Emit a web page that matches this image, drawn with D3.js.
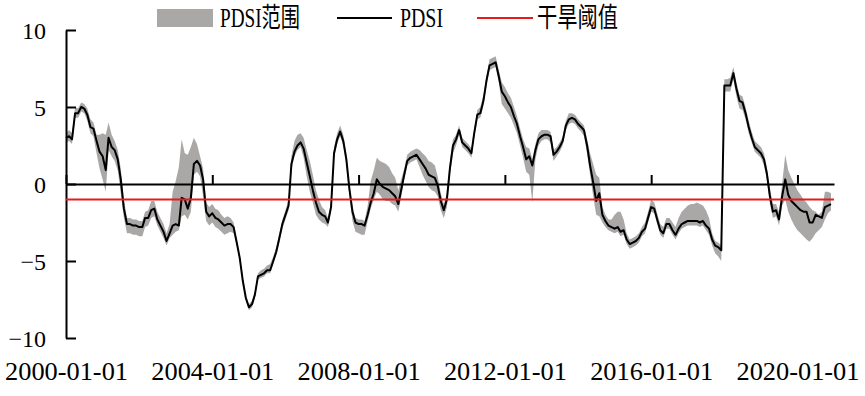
<!DOCTYPE html>
<html>
<head>
<meta charset="utf-8">
<script src="https://cdn.jsdelivr.net/npm/d3@7"></script>
<style>
    body { margin: 0; background: #fff; }
</style>
</head>
<body>
<svg id="chart" width="865" height="396"></svg>
<script>
// monthly PDSI, 2000-01 .. 2020-12 (one row per year)
const pdsi = [
    3.0, 3.1, 2.9, 4.6, 4.6, 5.0, 4.9, 4.5, 3.7, 3.6, 2.8, 2.1,
    1.8, 0.9, 3.0, 2.4, 2.2, 1.6, 0.3, -1.6, -2.6, -2.6, -2.7, -2.7,
    -2.8, -2.8, -2.2, -2.2, -1.7, -1.6, -2.3, -2.7, -3.1, -3.7, -3.2, -2.7,
    -2.6, -2.7, -0.9, -1.0, -1.6, -0.9, 1.3, 1.5, 1.2, 0.3, -1.8, -2.1,
    -1.9, -2.2, -2.3, -2.5, -2.7, -2.6, -2.6, -2.8, -3.8, -4.8, -6.3, -7.4,
    -8.0, -7.8, -7.2, -6.0, -5.9, -5.8, -5.6, -5.6, -5.0, -4.4, -3.5, -2.6,
    -2.0, -1.4, 1.3, 2.1, 2.5, 2.7, 2.3, 1.4, 0.5, -0.4, -1.2, -1.8,
    -2.0, -2.1, -2.5, -1.5, 2.0, 2.9, 3.4, 2.8, 1.6, -0.3, -1.8, -2.5,
    -2.6, -2.6, -2.7, -2.0, -1.2, -0.6, 0.3, 0.0, -0.2, -0.3, -0.4, -0.6,
    -0.8, -1.3, -0.4, 0.6, 1.5, 1.7, 1.8, 1.9, 1.6, 1.3, 1.0, 0.6,
    0.5, 0.4, -0.1, -1.1, -1.7, -1.0, 1.0, 2.5, 2.9, 3.5, 2.7, 2.5,
    2.3, 2.0, 3.3, 4.5, 4.6, 5.4, 6.7, 7.7, 7.8, 7.9, 7.0, 6.0,
    5.7, 5.3, 5.0, 4.4, 3.9, 3.1, 2.4, 1.6, 1.8, 1.2, 2.2, 2.9,
    3.1, 3.2, 3.2, 3.1, 1.9, 2.1, 2.4, 2.8, 3.8, 4.2, 4.3, 4.2,
    3.9, 3.7, 3.5, 2.5, 1.2, 0.1, -1.1, -0.6, -2.0, -2.4, -2.7, -2.8,
    -2.9, -2.8, -3.1, -3.0, -3.6, -3.9, -3.8, -3.7, -3.5, -3.1, -2.9, -2.2,
    -1.5, -1.6, -2.3, -3.0, -3.2, -2.6, -2.6, -3.0, -3.3, -2.9, -2.6, -2.5,
    -2.4, -2.4, -2.4, -2.4, -2.5, -2.4, -2.7, -2.9, -3.6, -4.0, -4.1, -4.3,
    6.4, 6.4, 6.4, 7.2, 6.2, 5.4, 5.3, 4.6, 3.7, 3.0, 2.4, 2.2,
    2.0, 1.6, 0.7, -0.8, -1.8, -1.7, -2.3, -0.8, 0.3, -0.7, -1.1, -1.3,
    -1.5, -1.7, -1.8, -1.8, -2.5, -2.5, -2.0, -2.1, -2.2, -1.5, -1.4, -1.3
];

// lower edge of the PDSI range
const pdsiLow = [
    2.7, 2.8, 2.6, 4.3, 4.3, 4.7, 4.6, 4.1, 3.3, 3.1, 2.0, 1.0,
    0.3, -0.5, 2.2, 1.8, 1.5, 0.9, -0.6, -2.2, -3.2, -3.2, -3.3, -3.3,
    -3.4, -3.4, -2.8, -2.7, -2.2, -2.1, -2.7, -3.1, -3.5, -4.0, -3.5, -3.3,
    -3.1, -3.0, -2.1, -2.0, -2.3, -1.8, 0.6, 0.8, 0.5, -0.8, -2.4, -2.7,
    -2.5, -2.8, -2.9, -3.1, -3.3, -3.2, -3.1, -3.2, -4.0, -5.0, -6.5, -7.6,
    -8.2, -8.0, -7.4, -6.2, -6.1, -6.0, -5.8, -5.8, -5.2, -4.6, -3.8, -2.9,
    -2.3, -1.7, 0.9, 1.8, 2.2, 2.4, 1.7, 0.5, -0.5, -1.2, -2.0, -2.3,
    -2.5, -2.6, -2.8, -1.8, 1.7, 2.6, 3.1, 2.5, 1.2, -0.8, -2.4, -3.1,
    -3.2, -3.3, -3.3, -2.4, -1.6, -1.0, -0.5, -0.7, -1.0, -1.1, -1.1, -1.3,
    -1.4, -1.8, -0.9, 0.3, 1.2, 1.4, 1.5, 1.6, 1.1, 0.6, 0.2, -0.2,
    -0.4, -0.5, -0.8, -1.7, -2.2, -1.5, 0.6, 2.0, 2.5, 3.2, 2.4, 2.2,
    2.0, 1.7, 3.0, 4.2, 4.3, 5.1, 6.4, 7.4, 7.5, 7.6, 6.6, 5.2,
    4.9, 4.6, 4.3, 3.8, 3.3, 2.5, 1.7, 0.8, 0.6, -1.2, 1.6, 2.5,
    2.8, 2.9, 2.9, 2.7, 1.5, 1.8, 2.1, 2.5, 3.5, 3.9, 4.0, 3.9,
    3.6, 3.4, 3.1, 2.0, 0.6, -0.8, -2.0, -2.1, -2.5, -2.8, -3.0, -3.1,
    -3.2, -3.1, -3.4, -3.3, -3.9, -4.2, -4.1, -4.0, -3.8, -3.4, -3.2, -2.5,
    -1.8, -1.9, -2.6, -3.3, -3.5, -2.9, -2.9, -3.3, -3.6, -3.2, -2.9, -2.8,
    -2.7, -2.7, -2.7, -2.7, -2.8, -2.7, -3.0, -3.3, -4.0, -4.5, -4.7, -5.0,
    6.0, 6.0, 6.0, 6.8, 5.7, 4.9, 4.8, 4.2, 3.3, 2.7, 2.1, 1.9,
    1.7, 1.2, 0.3, -1.3, -2.2, -2.1, -2.7, -1.4, -1.0, -1.8, -2.3, -2.7,
    -3.0, -3.2, -3.4, -3.6, -3.75, -3.5, -3.2, -3.0, -2.8, -2.3, -1.9, -1.7
];

// upper edge of the PDSI range
const pdsiHigh = [
    3.3, 3.5, 3.3, 5.0, 4.9, 5.3, 5.2, 4.9, 4.2, 4.0, 3.2, 3.2,
    3.3, 3.2, 4.0, 3.2, 2.8, 2.2, 1.0, -1.0, -2.2, -2.2, -2.3, -2.3,
    -2.4, -2.4, -1.8, -1.7, -1.1, -1.1, -1.8, -2.2, -2.6, -3.2, -2.6, -0.5,
    0.2, 1.1, 2.9, 2.0, 1.9, 2.4, 3.0, 2.6, 1.8, 1.0, -1.2, -1.5,
    -1.3, -1.6, -1.7, -2.0, -2.2, -2.1, -2.2, -2.5, -3.6, -4.6, -6.1, -7.2,
    -7.8, -7.6, -7.0, -5.8, -5.6, -5.5, -5.3, -5.2, -4.7, -4.1, -3.2, -2.3,
    -1.7, -1.0, 1.8, 2.8, 3.2, 3.3, 3.0, 2.2, 1.5, 0.6, -0.4, -1.0,
    -1.5, -1.7, -2.2, -1.2, 2.4, 3.3, 3.8, 3.2, 2.0, 0.0, -1.5, -2.2,
    -2.3, -2.3, -2.4, -1.4, 0.2, 0.9, 1.7, 1.5, 1.4, 1.3, 1.1, 0.7,
    0.4, -0.4, 0.3, 1.0, 1.9, 2.1, 2.2, 2.3, 2.2, 2.0, 1.8, 1.5,
    1.4, 1.2, 0.5, -0.6, -1.3, -0.6, 1.5, 2.9, 3.2, 3.8, 3.0, 2.8,
    2.6, 2.3, 3.6, 4.8, 5.0, 5.8, 7.0, 8.1, 8.2, 8.3, 7.4, 6.6,
    6.3, 5.9, 5.6, 5.0, 4.4, 3.6, 2.9, 2.4, 2.3, 1.6, 2.6, 3.3,
    3.5, 3.5, 3.5, 3.4, 2.2, 2.4, 2.7, 3.1, 4.1, 4.6, 4.6, 4.5,
    4.2, 4.0, 3.8, 2.9, 2.0, 1.3, 0.6, 0.4, -1.5, -2.0, -2.3, -2.3,
    -2.0, -1.8, -1.8, -2.3, -3.2, -3.6, -3.5, -3.4, -3.2, -2.8, -2.5, -1.8,
    -1.0, -1.2, -1.9, -2.6, -2.8, -2.2, -2.2, -2.5, -2.8, -2.2, -1.8, -1.6,
    -1.4, -1.3, -1.3, -1.2, -1.3, -1.4, -1.7, -2.2, -3.2, -3.7, -3.8, -4.0,
    6.8, 6.8, 6.9, 7.6, 6.6, 5.8, 5.7, 5.0, 4.1, 3.4, 2.8, 2.6,
    2.4, 2.0, 1.1, -0.3, -1.3, -1.3, -1.8, 0.0, 1.9, 0.9, 0.4, 0.0,
    -0.4, -0.7, -1.0, -1.2, -1.5, -1.7, -1.8, -2.0, -1.8, -0.5, -0.5, -0.6
];

const droughtThreshold = -1;
const yTicks = [-10, -5, 0, 5, 10];
const xTickLabels = ['2000-01-01', '2004-01-01', '2008-01-01', '2012-01-01', '2016-01-01', '2020-01-01'];
const legendLabels = ['PDSI范围', 'PDSI', '干旱阈值'];

const colors = { band: '#aaa7a7', line: '#000', threshold: '#e41c1c' };
const serif = '"Times New Roman", "Liberation Serif", "Noto Sans CJK SC", serif';
const parseDate = d3.timeParse('%Y-%m-%d');

const svg = d3.select('#chart'),
    plotLeft = 66,
    plotRight = 834,
    plotTop = 30,
    plotBottom = 338;

const months = d3.timeMonth.range(new Date(2000, 0, 1), new Date(2021, 0, 1));
const rows = months.map((m, i) => ({ date: m, v: pdsi[i], lo: pdsiLow[i], hi: pdsiHigh[i] }));

const x = d3.scaleTime()
    .domain([new Date(2000, 0, 1), new Date(2020, 11, 31)])
    .range([plotLeft, plotRight]);

const y = d3.scaleLinear()
    .domain([-10, 10])
    .range([plotBottom, plotTop]);

// range band
svg.append('path')
    .datum(rows)
    .attr('fill', colors.band)
    .attr('d', d3.area()
        .x(d => x(d.date))
        .y0(d => y(d.lo))
        .y1(d => y(d.hi)));

// y axis, ticks pointing inward
const yAxis = svg.append('g')
    .attr('transform', `translate(${plotLeft},0)`)
    .call(d3.axisLeft(y).tickValues(yTicks).tickSizeInner(-10).tickSizeOuter(0).tickPadding(20));

yAxis.selectAll('path, line')
    .attr('stroke', '#000')
    .attr('stroke-width', 2);

yAxis.selectAll('text')
    .style('font-family', serif)
    .style('font-size', '24px')
    .attr('fill', '#000')
    .attr('dy', '0.34em');

// zero line with upward ticks
const tickDates = xTickLabels.map(parseDate);

const xAxis = svg.append('g')
    .attr('transform', `translate(0,${y(0)})`)
    .call(d3.axisBottom(x).tickValues(tickDates).tickSizeInner(-9).tickSizeOuter(0).tickFormat(''));

xAxis.selectAll('path, line')
    .attr('stroke', '#000')
    .attr('stroke-width', 2);

// date labels sit below the plot
const xLabels = svg.append('g')
    .attr('transform', `translate(0,${plotBottom})`)
    .call(d3.axisBottom(x).tickValues(tickDates).tickSize(0).tickPadding(24)
        .tickFormat(d3.timeFormat('%Y-%m-%d')));

xLabels.select('.domain').remove();
xLabels.selectAll('text')
    .style('font-family', serif)
    .style('font-size', '25px')
    .attr('fill', '#000')
    .attr('textLength', 123)
    .attr('lengthAdjust', 'spacingAndGlyphs');

// PDSI line
svg.append('path')
    .datum(rows)
    .attr('fill', 'none')
    .attr('stroke', colors.line)
    .attr('stroke-width', 2)
    .attr('stroke-linejoin', 'round')
    .attr('d', d3.line()
        .x(d => x(d.date))
        .y(d => y(d.v)));

// drought threshold
svg.append('line')
    .attr('x1', plotLeft)
    .attr('x2', plotRight)
    .attr('y1', y(droughtThreshold))
    .attr('y2', y(droughtThreshold))
    .attr('stroke', colors.threshold)
    .attr('stroke-width', 2);

// legend
const legend = svg.append('g').attr('class', 'legend');

legend.append('rect')
    .attr('x', 157)
    .attr('y', 9)
    .attr('width', 56)
    .attr('height', 18)
    .attr('fill', colors.band);

legend.append('line')
    .attr('x1', 337).attr('x2', 392)
    .attr('y1', 18).attr('y2', 18)
    .attr('stroke', colors.line)
    .attr('stroke-width', 2);

legend.append('line')
    .attr('x1', 477).attr('x2', 533)
    .attr('y1', 18).attr('y2', 18)
    .attr('stroke', colors.threshold)
    .attr('stroke-width', 2);

const legendText = [
    { x: 220, len: 80 },
    { x: 400, len: 43 },
    { x: 537, len: 81 }
];

legend.selectAll('text')
    .data(legendLabels)
    .join('text')
    .attr('x', (d, i) => legendText[i].x)
    .attr('y', 27)
    .attr('textLength', (d, i) => legendText[i].len)
    .attr('lengthAdjust', 'spacingAndGlyphs')
    .style('font-family', serif)
    .style('font-size', '27px')
    .text(d => d);
</script>
</body>
</html>
